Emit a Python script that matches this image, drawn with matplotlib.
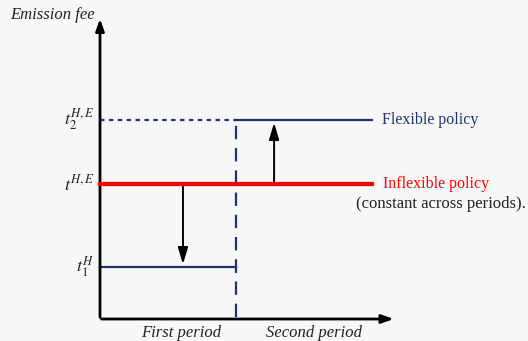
import numpy as np
import matplotlib.pyplot as plt

# fee levels (arbitrary units)
t1_H = 0.52      # first-period flexible fee
t_HE = 1.35      # inflexible fee, constant
t2_HE = 1.99     # second-period flexible fee
periods = [0, 1, 2]
period_names = ["First period", "Second period"]
period_label_x = [0.6, 1.57]
level_labels = [r"$t_2^{H,E}$", r"$t^{H,E}$", r"$t_1^H$"]

navy = "#1c3570"
plt.rcParams['font.family'] = ['Liberation Serif', 'DejaVu Serif']
plt.rcParams['mathtext.fontset'] = 'stix'

fig = plt.figure(figsize=(5.28, 3.41), dpi=100, facecolor="#f7f7f7")
ax = fig.add_axes([0, 0, 1, 1])
ax.set_facecolor("#f7f7f7")
ax.set_xlim(-100 / 136, 428 / 136)
ax.set_ylim(-0.22, 3.19)
ax.axis("off")

# axes with arrow heads
ax.annotate("", xy=(0, 3.03), xytext=(0, -0.01),
            arrowprops=dict(arrowstyle="-|>,head_length=0.7,head_width=0.25", color="black", lw=2))
ax.annotate("", xy=(2.18, 0), xytext=(-0.01, 0),
            arrowprops=dict(arrowstyle="-|>,head_length=0.7,head_width=0.25", color="black", lw=2))

# flexible policy
ax.plot(periods[:2], [t1_H, t1_H], color=navy, lw=1.6)
ax.plot([periods[1]] * 2, [t1_H - 0.05, t1_H + 0.05], color=navy, lw=1.4)
ax.plot(periods[1:], [t2_HE, t2_HE], color=navy, lw=1.6)
ax.plot(periods[:2], [t2_HE, t2_HE], color=navy, lw=1.6, ls=(0, (2, 2)))
ax.plot([periods[1]] * 2, [0.02, t2_HE], color=navy, lw=1.6, ls=(0, (6, 4)))

# inflexible policy
ax.plot([periods[0], periods[2]], [t_HE, t_HE], color="red", lw=3, zorder=3)

# adjustment arrows
ax.annotate("", xy=(0.61, t1_H), xytext=(0.61, t_HE),
            arrowprops=dict(arrowstyle="-|>,head_length=1.0,head_width=0.3", color="black", lw=1.4))
ax.annotate("", xy=(1.28, t2_HE), xytext=(1.28, t_HE),
            arrowprops=dict(arrowstyle="-|>,head_length=1.0,head_width=0.3", color="black", lw=1.4))

# level labels on y axis
for lab, y in zip(level_labels, [t2_HE, t_HE, t1_H]):
    ax.text(-0.04, y, lab, ha="right", va="center", fontsize=13, color="#222222")

ax.text(-0.66, 3.04, "Emission fee", style="italic", fontsize=12, color="#222222", va="center")
ax.text(2.07, t2_HE, "Flexible policy", color=navy, fontsize=11.5, va="center")
ax.text(2.08, t_HE, "Inflexible policy", color="red", fontsize=11.5, va="center")
ax.text(1.88, t_HE - 0.2, "(constant across periods).", color="#222222", fontsize=12, va="center")
for x, name in zip(period_label_x, period_names):
    ax.text(x, -0.14, name, style="italic", fontsize=12, ha="center",
            va="center", color="#222222")

fig.savefig("out.png", dpi=100, facecolor=fig.get_facecolor())
